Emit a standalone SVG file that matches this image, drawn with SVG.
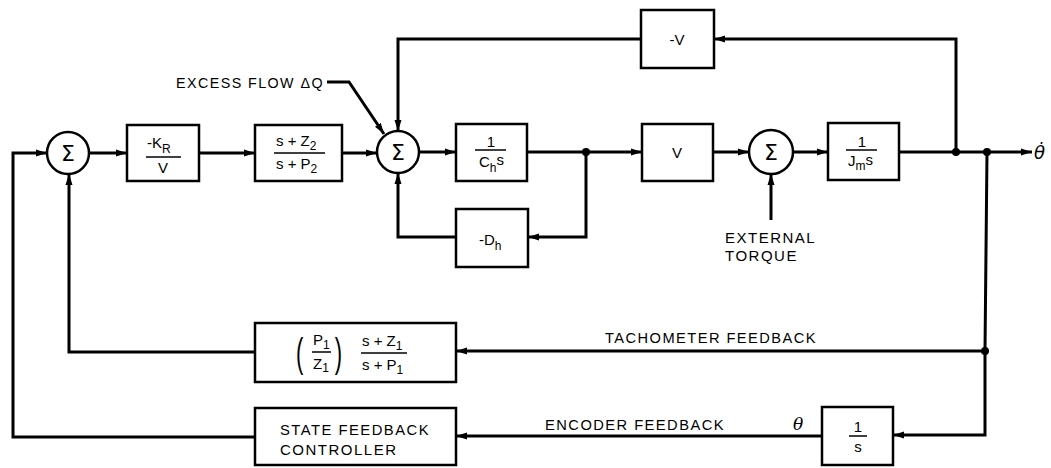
<svg xmlns="http://www.w3.org/2000/svg" width="1051" height="468" viewBox="0 0 1051 468">
<defs>
<marker id="ah" markerUnits="userSpaceOnUse" markerWidth="12" markerHeight="8" refX="11" refY="4" orient="auto">
<path d="M0,0.5 L11,4 L0,7.5 z" fill="#000"/>
</marker>
<style>
.ln{fill:none;stroke:#000;stroke-width:3;stroke-linejoin:miter}
.bx{fill:#fff;stroke:#000;stroke-width:2.5}
.sum{fill:#fff;stroke:#000;stroke-width:2.5}
.t{font-family:"Liberation Sans","DejaVu Sans",Arial,sans-serif;font-size:15px;fill:#000}
.lb{font-family:"Liberation Sans","DejaVu Sans",Arial,sans-serif;font-size:15px;fill:#000;letter-spacing:1.5px}
.sg{font-family:"DejaVu Sans","Liberation Sans",sans-serif;font-size:22px;fill:#000}
.sub{font-size:12px}
.par{font-family:"Liberation Sans","DejaVu Sans",Arial,sans-serif;font-size:40px;fill:#000}
.fr{stroke:#000;stroke-width:1.5}
.dot{fill:#000}
.it{font-family:"DejaVu Serif","Liberation Serif",serif;font-style:italic;font-size:17px;fill:#000}
.it2{font-family:"DejaVu Sans",sans-serif;font-style:italic;font-size:18px;fill:#000}
</style>
</defs>
<rect width="1051" height="468" fill="#fff"/>

<g id="connectors">
  <line class="ln" x1="89" y1="153" x2="127" y2="153" marker-end="url(#ah)"/>
  <line class="ln" x1="199" y1="153" x2="255" y2="153" marker-end="url(#ah)"/>
  <line class="ln" x1="342" y1="153" x2="377" y2="153" marker-end="url(#ah)"/>
  <line class="ln" x1="419" y1="152" x2="456" y2="152" marker-end="url(#ah)"/>
  <line class="ln" x1="527" y1="152" x2="642" y2="152" marker-end="url(#ah)"/>
  <line class="ln" x1="713" y1="152" x2="749" y2="152" marker-end="url(#ah)"/>
  <line class="ln" x1="793" y1="152" x2="828" y2="152" marker-end="url(#ah)"/>
  <line class="ln" x1="899" y1="152" x2="1032" y2="152" marker-end="url(#ah)"/>
  <polyline class="ln" points="956,152 956,39 714,39" marker-end="url(#ah)"/>
  <polyline class="ln" points="641,39 398,39 398,131" marker-end="url(#ah)"/>
  <polyline class="ln" points="586,152 586,237 528,237" marker-end="url(#ah)"/>
  <polyline class="ln" points="456,237 398,237 398,173" marker-end="url(#ah)"/>
  <polyline class="ln" points="327,82 349,82 384,134" marker-end="url(#ah)"/>
  <line class="ln" x1="771" y1="220" x2="771" y2="174" marker-end="url(#ah)"/>
  <polyline class="ln" points="987,152 985,351 456,351" marker-end="url(#ah)"/>
  <polyline class="ln" points="255,352 69,352 69,174" marker-end="url(#ah)"/>
  <polyline class="ln" points="985,351 985,435 893,435" marker-end="url(#ah)"/>
  <line class="ln" x1="822" y1="436" x2="456" y2="436" marker-end="url(#ah)"/>
  <polyline class="ln" points="255,437 13,437 13,153 47,153" marker-end="url(#ah)"/>
  <circle class="dot" cx="586" cy="152" r="4"/>
  <circle class="dot" cx="956" cy="152" r="4"/>
  <circle class="dot" cx="987" cy="152" r="4"/>
  <circle class="dot" cx="985" cy="351" r="4"/>
</g>

<g id="sum1">
  <circle class="sum" cx="68" cy="153" r="21"/>
  <text class="sg" x="68" y="161" text-anchor="middle">Σ</text>
</g>
<g id="kr">
  <rect class="bx" x="127" y="125" width="72" height="56"/>
  <text class="t" x="147" y="148">-K<tspan class="sub" dy="5">R</tspan></text>
  <line class="fr" x1="146" y1="157" x2="181" y2="157"/>
  <text class="t" x="163" y="173" text-anchor="middle">V</text>
</g>
<g id="z2">
  <rect class="bx" x="255" y="125" width="87" height="56"/>
  <text class="t" x="276" y="146">s + Z<tspan class="sub" dy="4">2</tspan></text>
  <line class="fr" x1="274" y1="153" x2="325" y2="153"/>
  <text class="t" x="276" y="169">s + P<tspan class="sub" dy="4">2</tspan></text>
</g>
<g id="sum2">
  <circle class="sum" cx="398" cy="152" r="21"/>
  <text class="sg" x="398" y="160" text-anchor="middle">Σ</text>
</g>
<g id="excess">
  <text class="lb" x="176" y="88" textLength="148" lengthAdjust="spacingAndGlyphs">EXCESS FLOW ΔQ</text>
</g>
<g id="ch">
  <rect class="bx" x="456" y="124" width="71" height="57"/>
  <text class="t" x="491" y="147" text-anchor="middle">1</text>
  <line class="fr" x1="475" y1="150" x2="506" y2="150"/>
  <text class="t" x="479" y="167">C<tspan class="sub" dy="5">h</tspan><tspan dy="-7">s</tspan></text>
</g>
<g id="dh">
  <rect class="bx" x="456" y="209" width="72" height="58"/>
  <text class="t" x="479" y="245">-D<tspan class="sub" dy="5">h</tspan></text>
</g>
<g id="v">
  <rect class="bx" x="642" y="124" width="71" height="57"/>
  <text class="t" x="677" y="158" text-anchor="middle">V</text>
</g>
<g id="negv">
  <rect class="bx" x="641" y="10" width="73" height="58"/>
  <text class="t" x="677" y="45" text-anchor="middle">-V</text>
</g>
<g id="sum3">
  <circle class="sum" cx="771" cy="152" r="22"/>
  <text class="sg" x="771" y="160" text-anchor="middle">Σ</text>
</g>
<g id="torque">
  <text class="lb" x="725" y="243">EXTERNAL</text>
  <text class="lb" x="725" y="261">TORQUE</text>
</g>
<g id="jm">
  <rect class="bx" x="828" y="123" width="71" height="57"/>
  <text class="t" x="862" y="147" text-anchor="middle">1</text>
  <line class="fr" x1="846" y1="150" x2="877" y2="150"/>
  <text class="t" x="848" y="166">J<tspan class="sub" dy="4">m</tspan><tspan dy="-5">s</tspan></text>
</g>
<g id="output">
  <text class="it2" x="1034" y="159">θ̇</text>
</g>
<g id="tach">
  <rect class="bx" x="255" y="323" width="201" height="59"/>
  <text class="par" x="296" y="367" transform="translate(296 0) scale(0.55 1) translate(-296 0)">(</text>
  <text class="par" x="342" y="367" text-anchor="end" transform="translate(342 0) scale(0.55 1) translate(-342 0)">)</text>
  <text class="t" x="313" y="345">P<tspan class="sub" dy="4">1</tspan></text>
  <line class="fr" x1="312" y1="352" x2="331" y2="352"/>
  <text class="t" x="313" y="369">Z<tspan class="sub" dy="3">1</tspan></text>
  <text class="t" x="362" y="346">s + Z<tspan class="sub" dy="4">1</tspan></text>
  <line class="fr" x1="361" y1="353" x2="407" y2="353"/>
  <text class="t" x="362" y="370">s + P<tspan class="sub" dy="4">1</tspan></text>
</g>
<g id="tachlabel">
  <text class="lb" x="605" y="343" textLength="212" lengthAdjust="spacingAndGlyphs">TACHOMETER FEEDBACK</text>
</g>
<g id="sfc">
  <rect class="bx" x="255" y="408" width="201" height="57"/>
  <text class="lb" x="280" y="435" textLength="150" lengthAdjust="spacingAndGlyphs">STATE FEEDBACK</text>
  <text class="lb" x="280" y="455">CONTROLLER</text>
</g>
<g id="enclabel">
  <text class="lb" x="545" y="430" textLength="180" lengthAdjust="spacingAndGlyphs">ENCODER  FEEDBACK</text>
  <text class="it" x="793" y="430">θ</text>
</g>
<g id="integ">
  <rect class="bx" x="822" y="407" width="71" height="58"/>
  <text class="t" x="858" y="432" text-anchor="middle">1</text>
  <line class="fr" x1="849" y1="436" x2="867" y2="436"/>
  <text class="t" x="858" y="452" text-anchor="middle">s</text>
</g>
</svg>
